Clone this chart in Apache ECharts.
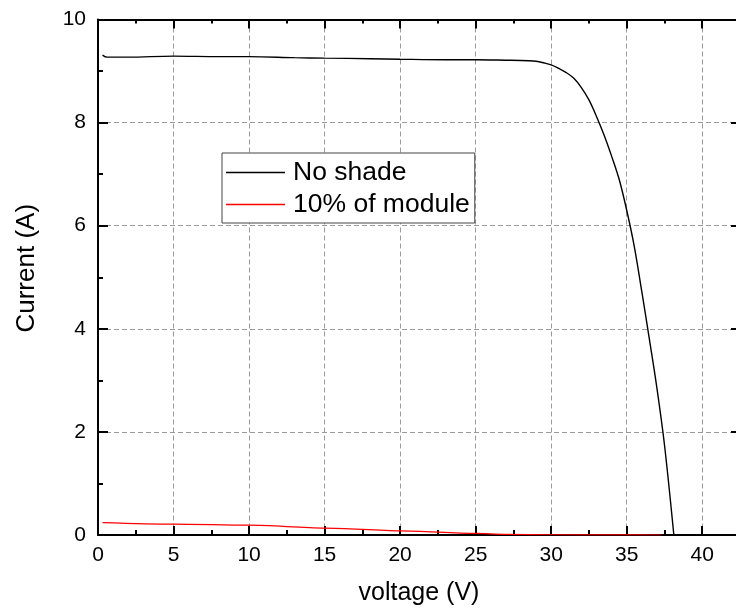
<!DOCTYPE html>
<html>
<head>
<meta charset="utf-8">
<script src="https://cdn.jsdelivr.net/npm/echarts@6/dist/echarts.min.js"></script>
<style>
  html, body { margin: 0; padding: 0; background: #fff; }
  #chart { width: 736px; height: 612px; }
</style>
</head>
<body>
<div id="chart"></div>
<script>
// I-V curves of a PV module: unshaded vs. 10% of the module shaded
const noShadeV = [0.3, 0.6, 2, 5, 8, 10, 13, 15, 18, 20, 23, 25, 27, 28.5, 29, 29.5, 30, 30.5, 31, 31.5, 32, 32.5, 33, 33.5, 34, 34.5, 35, 35.5, 36, 36.5, 37, 37.5, 38.12];
const noShadeI = [9.31, 9.27, 9.27, 9.29, 9.28, 9.28, 9.26, 9.25, 9.24, 9.23, 9.22, 9.22, 9.21, 9.2, 9.19, 9.16, 9.12, 9.05, 8.97, 8.86, 8.68, 8.44, 8.12, 7.76, 7.35, 6.90, 6.30, 5.60, 4.72, 3.80, 2.85, 1.75, 0];

const shadedV = [0.3, 5, 10, 15, 20, 25, 27, 30, 34, 37.3];
const shadedI = [0.24, 0.21, 0.19, 0.135, 0.08, 0.03, 0.012, 0.005, 0.002, 0];

const xTicks = { min: 0, max: 42.5, interval: 5 };
const yTicks = { min: 0, max: 10, interval: 2 };

const seriesNames = ['No shade', '10% of module'];

const zip = (xs, ys) => xs.map((x, i) => [x, ys[i]]);

const FONT = 'Liberation Sans, Arial, sans-serif';
const axisLineStyle = { onZero: false, lineStyle: { color: '#000', width: 2 } };
const gridDash = { show: true, lineStyle: { color: '#9a9a9a', width: 1, type: [5, 3] } };

// major and minor ticks both point into the plot area
const tick = len => ({ show: true, inside: true, length: len, lineStyle: { color: '#000', width: 2 } });
const minor = len => ({ show: true, splitNumber: 2, length: len, lineStyle: { color: '#000', width: 2 } });

const chart = echarts.init(document.getElementById('chart'), null, { renderer: 'canvas' });

chart.setOption({
  animation: false,
  backgroundColor: '#fff',
  grid: { left: 98, top: 19.5, width: 642, height: 515.5, containLabel: false, outerBoundsMode: 'none' },
  legend: {
    orient: 'vertical',
    left: 222,
    top: 153,
    data: seriesNames.map(n => ({ name: n, icon: 'rect' })),
    itemWidth: 59,
    itemHeight: 1.5,
    itemGap: 5,
    padding: [6, 5, 5, 4],
    borderColor: '#444',
    borderWidth: 1,
    backgroundColor: '#fff',
    textStyle: { fontFamily: FONT, fontSize: 26.5, lineHeight: 24, color: '#000', padding: [0, 0, 0, 3] }
  },
  xAxis: [
    {
      type: 'value',
      position: 'bottom',
      min: xTicks.min, max: xTicks.max, interval: xTicks.interval,
      name: 'voltage (V)',
      nameLocation: 'middle',
      nameGap: 46,
      nameTextStyle: { fontFamily: FONT, fontSize: 25, color: '#000' },
      axisLine: axisLineStyle,
      axisTick: tick(9),
      minorTick: minor(5),
      axisLabel: { fontFamily: FONT, fontSize: 21, color: '#000', margin: 10,
        formatter: v => (v > 40 ? '' : String(v)) },
      splitLine: gridDash
    },
    {
      type: 'value',
      position: 'top',
      min: xTicks.min, max: xTicks.max, interval: xTicks.interval,
      axisLine: axisLineStyle,
      axisTick: tick(9),
      minorTick: minor(4),
      axisLabel: { show: false },
      splitLine: { show: false }
    }
  ],
  yAxis: [
    {
      type: 'value',
      position: 'left',
      min: yTicks.min, max: yTicks.max, interval: yTicks.interval,
      name: 'Current (A)',
      nameLocation: 'middle',
      nameGap: 58,
      nameRotate: 90,
      nameTextStyle: { fontFamily: FONT, fontSize: 26, color: '#000', padding: [0, 0, 0, 18] },
      axisLine: axisLineStyle,
      axisTick: tick(10),
      minorTick: minor(5),
      axisLabel: { fontFamily: FONT, fontSize: 21, color: '#000', margin: 12 },
      splitLine: gridDash
    },
    {
      type: 'value',
      position: 'right',
      min: yTicks.min, max: yTicks.max, interval: yTicks.interval,
      axisLine: axisLineStyle,
      axisTick: tick(9),
      minorTick: minor(4),
      axisLabel: { show: false },
      splitLine: { show: false }
    }
  ],
  series: [
    {
      name: seriesNames[0],
      type: 'line',
      data: zip(noShadeV, noShadeI),
      symbol: 'none',
      smooth: 0.35,
      color: '#000',
      lineStyle: { color: '#000', width: 1.4 },
      z: 3
    },
    {
      name: seriesNames[1],
      type: 'line',
      data: zip(shadedV, shadedI),
      symbol: 'none',
      smooth: 0.3,
      smoothMonotone: 'x',
      color: '#ff0000',
      lineStyle: { color: '#ff0000', width: 1.2 },
      z: 4
    }
  ]
});
</script>
</body>
</html>
